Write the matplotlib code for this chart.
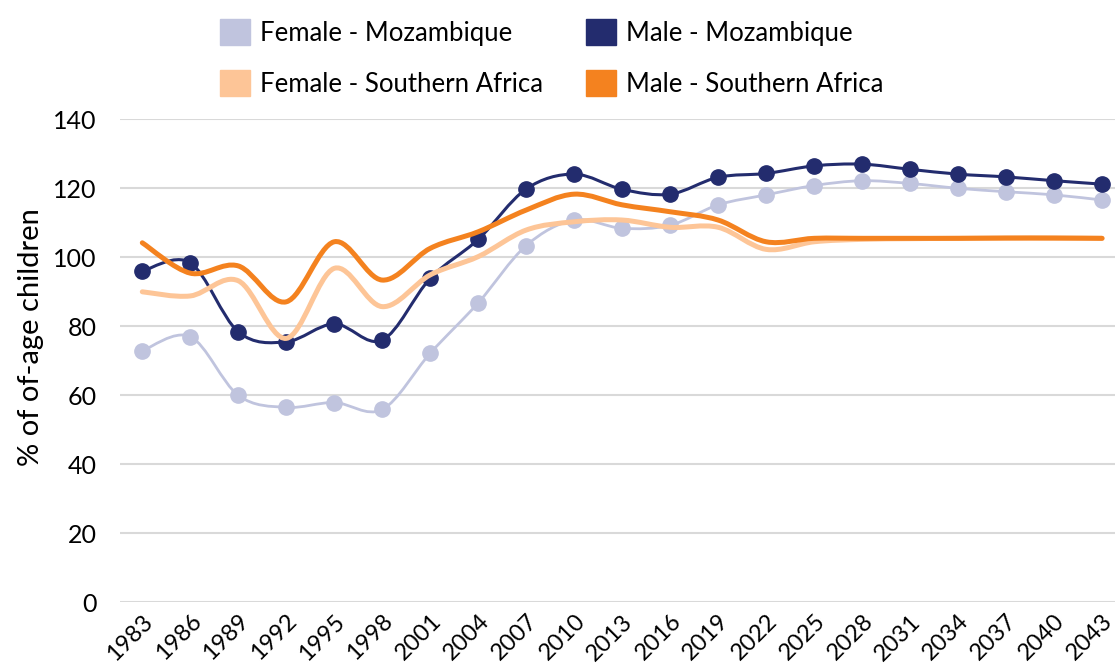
import matplotlib
matplotlib.use('Agg')
import matplotlib.pyplot as plt
from matplotlib.path import Path
from matplotlib.patches import PathPatch, Patch
import numpy as np

plt.rcParams['font.family'] = ['Lato', 'DejaVu Sans']

years = [1983, 1986, 1989, 1992, 1995, 1998, 2001, 2004, 2007, 2010, 2013,
         2016, 2019, 2022, 2025, 2028, 2031, 2034, 2037, 2040, 2043]
female_moz = [72.9, 77.0, 60.0, 56.5, 57.9, 55.9, 72.2, 86.8, 103.4, 110.8, 108.4,
              109.3, 115.2, 118.1, 120.8, 122.2, 121.4, 120.0, 119.0, 118.1, 116.6]
male_moz = [96.0, 98.4, 78.4, 75.5, 80.7, 76.0, 93.9, 105.2, 119.8, 124.1, 119.7,
            118.3, 123.2, 124.3, 126.5, 127.0, 125.5, 124.1, 123.3, 122.2, 121.2]
female_sa = [90.0, 88.8, 93.2, 76.5, 96.8, 85.7, 94.9, 100.2, 107.9, 110.3, 110.8,
             108.7, 108.7, 102.3, 104.5, 105.2, 105.4, 105.5, 105.5, 105.5, 105.5]
male_sa = [104.2, 95.4, 97.5, 87.1, 104.5, 93.4, 102.6, 107.4, 113.7, 118.3, 115.2,
           113.2, 110.8, 104.5, 105.5, 105.5, 105.5, 105.5, 105.6, 105.6, 105.5]

C_FMOZ = '#c0c4de'
C_MMOZ = '#232c6e'
C_FSA = '#fdc597'
C_MSA = '#f4821f'


def smooth_path(xs, ys):
    pts = np.column_stack([xs, ys]).astype(float)
    n = len(pts)
    verts = [pts[0]]
    codes = [Path.MOVETO]
    for i in range(n - 1):
        p0 = pts[i - 1] if i > 0 else pts[i]
        p1 = pts[i]
        p2 = pts[i + 1]
        p3 = pts[i + 2] if i + 2 < n else pts[i + 1]
        c1 = p1 + (p2 - p0) / 6.0
        c2 = p2 - (p3 - p1) / 6.0
        verts += [c1, c2, p2]
        codes += [Path.CURVE4] * 3
    return Path(verts, codes)


fig = plt.figure(figsize=(11.15, 6.71), dpi=100)
ax = fig.add_axes([120 / 1115, 1 - 602.3 / 671, (1115 - 120) / 1115, (602.3 - 119.3) / 671])

x = np.arange(len(years))

series = [
    (female_moz, C_FMOZ, 2.0, True, 1),
    (male_moz, C_MMOZ, 2.2, True, 2),
    (female_sa, C_FSA, 3.6, False, 3),
    (male_sa, C_MSA, 3.6, False, 4),
]
for vals, col, lw, mk, z in series:
    p = smooth_path(x, vals)
    ax.add_patch(PathPatch(p, fill=False, edgecolor=col, lw=lw, zorder=z,
                           capstyle='round', joinstyle='round'))
    if mk:
        ax.plot(x, vals, linestyle='none', marker='o', markersize=11,
                color=col, zorder=z)

ax.set_xlim(-0.465, 20.27)
ax.set_ylim(0, 140)
ax.set_yticks(range(0, 141, 20))
ax.set_xticks(x)
ax.set_xticklabels([str(y) for y in years], rotation=45, ha='right',
                   rotation_mode='anchor', fontsize=17)
ax.tick_params(axis='y', labelsize=18, length=0, pad=17)
ax.tick_params(axis='x', length=0, pad=6)
ax.grid(axis='y', color='#d9d9d9', lw=1.5)
ax.set_axisbelow(True)
for s in ax.spines.values():
    s.set_visible(False)
ax.set_ylabel('% of of-age children', fontsize=21)
ax.yaxis.set_label_coords(-0.076, 0.55)

handles = [Patch(color=C_FMOZ), Patch(color=C_FSA), Patch(color=C_MMOZ), Patch(color=C_MSA)]
labels = ['Female - Mozambique', 'Female - Southern Africa', 'Male - Mozambique',
          'Male - Southern Africa']
fig.legend(handles, labels, ncol=2, loc='upper left',
           bbox_to_anchor=(197 / 1115, 1.0 + 4 / 671),
           frameon=False, fontsize=18.5, handlelength=1.17, handleheight=1.17,
           handletextpad=0.39, columnspacing=1.67, labelspacing=0.95, borderpad=0.4)

fig.savefig('out.png', dpi=100)
